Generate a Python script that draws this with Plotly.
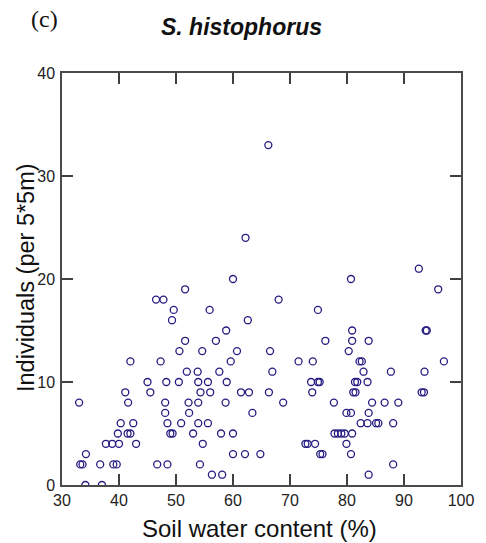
import plotly.graph_objects as go

# Soil water content (%) and Individuals per 5*5 m
x_vals = [
    34.1, 37.0,
    56.3, 58.1, 83.8,
    33.2, 33.6, 36.7, 39.0, 39.6, 46.7, 48.5, 54.2, 88.1,
    34.2, 60.0, 62.1, 64.8, 75.3, 75.7, 80.7,
    37.7, 38.8, 40.0, 43.0, 54.7, 72.7, 73.1, 74.4, 79.9,
    39.8, 41.5, 42.0, 49.0, 49.4, 53.0, 57.9, 60.0, 77.8, 78.4, 79.0, 79.6, 80.9,
    40.3, 42.5, 48.5, 50.9, 53.9, 55.6, 82.4, 83.6, 85.1, 85.5, 88.1,
    48.1, 52.3, 63.4, 79.9, 80.7, 83.8,
    33.0, 41.6, 48.1, 52.2, 53.9, 58.7, 68.8, 77.7, 84.4, 86.6, 89.0,
    41.1, 45.5, 54.3, 56.0, 61.4, 62.8, 66.3, 73.9, 81.1, 81.5, 93.1, 93.5,
    45.0, 48.3, 50.5, 53.9, 55.6, 58.9, 73.7, 74.9, 75.2, 81.4, 81.8, 83.6,
    51.9, 53.8, 57.6, 66.9, 82.9, 87.7, 93.6,
    42.0, 47.3, 59.6, 71.5, 74.0, 82.2, 82.6, 97.0,
    50.6, 54.6, 60.7, 66.5, 80.3,
    51.6, 57.0, 76.2, 80.9, 83.8,
    58.8, 80.9, 93.8, 94.0,
    49.3, 62.6,
    49.6, 55.9, 74.9,
    46.5, 47.8, 68.0,
    51.6, 96.0,
    60.0, 80.7,
    92.6,
    62.2,
    66.2,
]
y_vals = (
    [0] * 2 + [1] * 3 + [2] * 9 + [3] * 7 + [4] * 9 + [5] * 13 + [6] * 11
    + [7] * 6 + [8] * 11 + [9] * 12 + [10] * 12 + [11] * 7 + [12] * 8
    + [13] * 5 + [14] * 5 + [15] * 4 + [16] * 2 + [17] * 3 + [18] * 3
    + [19] * 2 + [20] * 2 + [21] + [24] + [33]
)

x_ticks = [30, 40, 50, 60, 70, 80, 90, 100]
y_ticks = [0, 10, 20, 30, 40]

title_text = "S. histophorus"
panel_label = "(c)"
x_title = "Soil water content (%)"
y_title = "Individuals (per 5*5m)"

W, H = 486, 543
L, R, T, B = 62, 14, 73, 58
pw, ph = W - L - R, H - T - B

def px(xp):
    return (xp - L) / pw

def py(yp):
    return (H - B - yp) / ph

fig = go.Figure()
fig.add_trace(go.Scatter(
    x=x_vals, y=y_vals, mode="markers",
    marker=dict(symbol="circle-open", size=7, color="#241c80",
                line=dict(width=1.3, color="#241c80")),
    showlegend=False, hoverinfo="x+y",
))

axis_common = dict(
    showgrid=False, zeroline=False, showline=True, linecolor="#4a4a4a",
    linewidth=1.5, mirror="ticks", ticks="inside", ticklen=11,
    tickwidth=1.5, tickcolor="#404040",
    tickfont=dict(family="Liberation Sans, Arial", size=16, color="#222222"),
)
fig.update_xaxes(range=[30, 100], tickvals=x_ticks, ticktext=[str(v) for v in x_ticks],
                 ticklabelstandoff=0, **axis_common)
fig.update_yaxes(range=[0, 40], tickvals=y_ticks, ticktext=[str(v) for v in y_ticks],
                 ticklabelstandoff=2, **axis_common)

fig.add_annotation(text=x_title, xref="paper", yref="paper", x=px(265), y=py(528),
                   xanchor="center", yanchor="middle", showarrow=False,
                   font=dict(family="Liberation Sans, Arial", size=24, color="#111111"))
fig.add_annotation(text=y_title, xref="paper", yref="paper", x=px(25), y=py(277),
                   xanchor="center", yanchor="middle", showarrow=False, textangle=-90,
                   font=dict(family="Liberation Sans, Arial", size=23.5, color="#111111"))
fig.add_annotation(text="<b><i>" + title_text + "</i></b>", xref="paper", yref="paper",
                   x=px(246), y=py(27), xanchor="center", yanchor="middle", showarrow=False,
                   font=dict(family="Liberation Sans, Arial", size=23, color="#111111"))
fig.add_annotation(text=panel_label, xref="paper", yref="paper", x=px(44), y=py(19),
                   xanchor="center", yanchor="middle", showarrow=False,
                   font=dict(family="Liberation Serif, Times New Roman", size=24, color="#111111"))

fig.update_layout(
    width=W, height=H, margin=dict(l=L, r=R, t=T, b=B),
    paper_bgcolor="white", plot_bgcolor="white",
)

fig.write_html("out.html")
